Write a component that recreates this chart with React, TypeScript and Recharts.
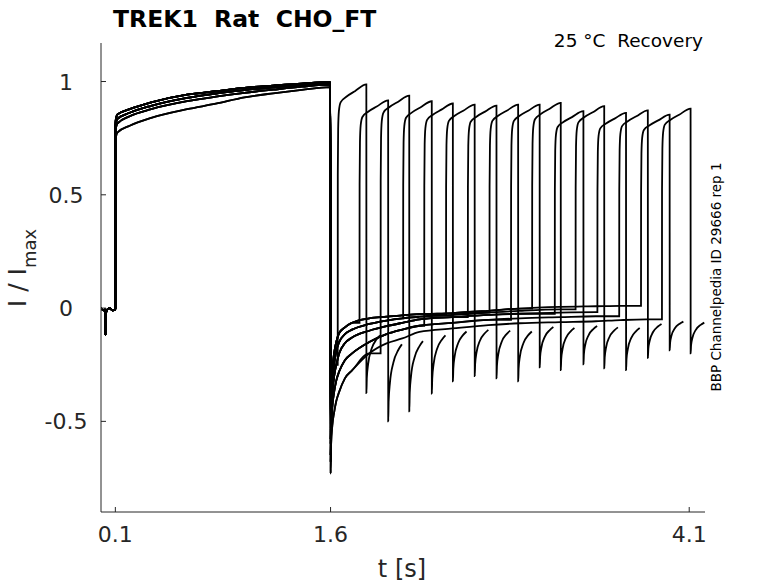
import React from 'react';
import { LineChart, Line, XAxis, YAxis } from 'recharts';

// ---- baseline before the activating step (shared by all sweeps)
const baseT = [0, 0.02, 0.028, 0.031, 0.034, 0.04, 0.06, 0.08, 0.0995];
const baseI = [0.0, -0.01, -0.005, -0.12, -0.03, -0.01, 0.0, -0.01, -0.005];

// ---- activation phase 0.1 s .. 1.6 s (traces read across the band)
const actT = [0.1, 0.1005, 0.104, 0.115, 0.2, 0.35, 0.6, 0.8, 1.0, 1.2, 1.4, 1.599];
const actA = [0.0, 0.81, 0.835, 0.855, 0.878, 0.908, 0.942, 0.957, 0.972, 0.982, 0.991, 0.997];
const actB = [0.0, 0.79, 0.815, 0.835, 0.862, 0.893, 0.928, 0.947, 0.962, 0.974, 0.984, 0.991];
const actC = [0.0, 0.77, 0.795, 0.815, 0.847, 0.878, 0.913, 0.933, 0.95, 0.964, 0.977, 0.986];
const actD = [0.0, 0.73, 0.755, 0.775, 0.805, 0.84, 0.878, 0.902, 0.93, 0.948, 0.963, 0.975];

// ---- deactivation tail after 1.6 s (traces read across the band)
const tailT = [1.6005, 1.604, 1.612, 1.625, 1.64, 1.66, 1.7, 1.75, 1.87, 1.99, 2.1, 2.22, 2.45, 2.7, 2.92, 3.2, 3.45, 3.62, 3.8, 3.95];
const tailV0 = [-0.73, -0.6, -0.52, -0.46, -0.41, -0.37, -0.31, -0.275, -0.2, -0.156, -0.134, -0.105, -0.09, -0.075, -0.067, -0.062, -0.058, -0.053, -0.05, -0.05];
const tailV1 = [-0.68, -0.54, -0.44, -0.37, -0.32, -0.28, -0.23, -0.2, -0.15, -0.115, -0.095, -0.078, -0.065, -0.052, -0.045, -0.04, -0.036, -0.033, -0.032, -0.03];
const tailV2 = [-0.65, -0.48, -0.38, -0.3, -0.25, -0.2, -0.155, -0.13, -0.1, -0.08, -0.065, -0.05, -0.04, -0.03, -0.025, -0.02, -0.018, -0.015, -0.015, -0.015];
const tailV3 = [-0.6, -0.44, -0.33, -0.25, -0.19, -0.15, -0.115, -0.095, -0.07, -0.055, -0.045, -0.038, -0.03, -0.02, -0.012, -0.006, -0.004, -0.002, -0.003, -0.004];
const tailV4 = [-0.58, -0.4, -0.28, -0.2, -0.15, -0.11, -0.085, -0.065, -0.045, -0.038, -0.032, -0.027, -0.022, -0.012, -0.002, 0.005, 0.008, 0.01, 0.008, 0.005];

// ---- recovery test pulses, one per sweep
const pulseStart = [1.65, 1.802, 1.949, 2.106, 2.253, 2.405, 2.557, 2.708, 2.858, 3.005, 3.163, 3.308, 3.46, 3.612, 3.764, 3.91];
const pulseTop = [0.987, 0.917, 0.938, 0.913, 0.903, 0.898, 0.894, 0.898, 0.898, 0.906, 0.869, 0.891, 0.862, 0.873, 0.854, 0.88];
const spikeMin = [-0.375, -0.5, -0.456, -0.377, -0.323, -0.3, -0.31, -0.323, -0.262, -0.274, -0.248, -0.266, -0.274, -0.22, -0.186, -0.2];
const actVariant = [0, 1, 3, 0, 1, 2, 0, 1, 2, 0, 3, 1, 0, 2, 1, 0];
const tailVariant = [2, 4, 0, 3, 1, 4, 2, 3, 1, 4, 2, 3, 2, 1, 4, 0];

// ---- pulse shape (time after pulse start, fraction of pulse top)
const pulseDt = [0.0005, 0.003, 0.008, 0.02, 0.06, 0.12, 0.1995];
const pulseFrac = [0.6, 0.8, 0.88, 0.92, 0.945, 0.97, 1.0];
// ---- tail after the pulse (time after pulse start, fraction of spike)
const postDt = [0.2, 0.203, 0.212, 0.236, 0.27, 0.295];
const postFrac = [1, 0.82, 0.66, 0.48, 0.37, 0.32];

// ---- axis ticks
const xTicks = [0.1, 1.6, 4.1];
const xTickLabels = ['0.1', '1.6', '4.1'];
const yTicks = [-0.5, 0, 0.5, 1];
const yTickLabels = ['-0.5', '0', '0.5', '1'];

const actCurves = [actA, actB, actC, actD];
const tailCurves = [tailV0, tailV1, tailV2, tailV3, tailV4];

type Pt = { t: number; i: number };

function buildSweep(k: number): Pt[] {
  const pts: Pt[] = [];
  baseT.forEach((t, j) => pts.push({ t, i: baseI[j] }));
  const act = actCurves[actVariant[k]];
  actT.forEach((t, j) => pts.push({ t, i: act[j] }));
  const tail = tailCurves[tailVariant[k]];
  const ts = pulseStart[k];
  let last = tail[0];
  tailT.forEach((t, j) => {
    if (t < ts) {
      pts.push({ t, i: tail[j] });
      last = tail[j];
    }
  });
  pts.push({ t: ts, i: last });
  pulseDt.forEach((d, j) => pts.push({ t: ts + d, i: pulseTop[k] * pulseFrac[j] }));
  postDt.forEach((d, j) => pts.push({ t: ts + d, i: spikeMin[k] * postFrac[j] }));
  return pts;
}

const sweeps = pulseStart.map((_, k) => buildSweep(k));

const INK = '#262626';
const FONT = 'DejaVu Sans';

const XTick = (props: any) => {
  const { x, y, payload } = props;
  const idx = xTicks.indexOf(payload.value);
  return (
    <g>
      <line x1={x} x2={x} y1={y} y2={y - 5} stroke={INK} strokeWidth={1} />
      <text x={x} y={y + 30} textAnchor="middle" fontSize={22} fontFamily={FONT} fill={INK}>
        {idx >= 0 ? xTickLabels[idx] : ''}
      </text>
    </g>
  );
};

const YTick = (props: any) => {
  const { x, y, payload } = props;
  const idx = yTicks.indexOf(payload.value);
  return (
    <g>
      <line x1={x} x2={x + 5} y1={y} y2={y} stroke={INK} strokeWidth={1} />
      <text x={x - 35} y={y + 8} textAnchor="middle" fontSize={22} fontFamily={FONT} fill={INK}>
        {idx >= 0 ? yTickLabels[idx] : ''}
      </text>
    </g>
  );
};

export default function App() {
  return (
    <div style={{ position: 'absolute', left: 0, top: 0, width: 778, height: 583, background: '#fff' }}>
      <LineChart
        width={778}
        height={583}
        margin={{ top: 43, right: 73, bottom: 31, left: 41 }}
      >
        <XAxis
          type="number"
          dataKey="t"
          domain={[0, 4.21]}
          ticks={xTicks}
          allowDataOverflow
          height={40}
          tickSize={0}
          tickMargin={0}
          tickLine={false}
          axisLine={{ stroke: INK, strokeWidth: 1 }}
          tick={<XTick />}
          interval={0}
        />
        <YAxis
          type="number"
          domain={[-0.9, 1.17]}
          ticks={yTicks}
          allowDataOverflow
          width={60}
          tickSize={0}
          tickMargin={0}
          tickLine={false}
          axisLine={{ stroke: INK, strokeWidth: 1 }}
          tick={<YTick />}
          interval={0}
        />
        {sweeps.map((d, k) => (
          <Line
            key={k}
            data={d}
            dataKey="i"
            type="monotone"
            stroke="#000"
            strokeWidth={1.8}
            dot={false}
            activeDot={false}
            isAnimationActive={false}
          />
        ))}
      </LineChart>
      <svg
        width={778}
        height={583}
        style={{ position: 'absolute', left: 0, top: 0, pointerEvents: 'none' }}
      >
        <text x={113} y={27} fontSize={23.5} fontWeight="bold" fontFamily={FONT} fill="#000" style={{ whiteSpace: 'pre' }}>
          {'TREK1  Rat  CHO_FT'}
        </text>
        <text x={703} y={47} textAnchor="end" fontSize={18.5} fontFamily={FONT} fill="#000" style={{ whiteSpace: 'pre' }}>
          {'25 °C  Recovery'}
        </text>
        <text
          transform="translate(721,277) rotate(-90)"
          textAnchor="middle"
          fontSize={13.5}
          fontFamily={FONT}
          fill="#000"
        >
          BBP Channelpedia ID 29666 rep 1
        </text>
        <text
          transform="translate(26,268) rotate(-90)"
          textAnchor="middle"
          fontSize={25}
          fontFamily={FONT}
          fill={INK}
          style={{ whiteSpace: 'pre' }}
        >
          {'I / I'}
          <tspan fontSize={18} dy={10}>max</tspan>
        </text>
        <text x={402} y={577} textAnchor="middle" fontSize={24} fontFamily={FONT} fill={INK} style={{ whiteSpace: 'pre' }}>
          {'t [s]'}
        </text>
      </svg>
    </div>
  );
}
